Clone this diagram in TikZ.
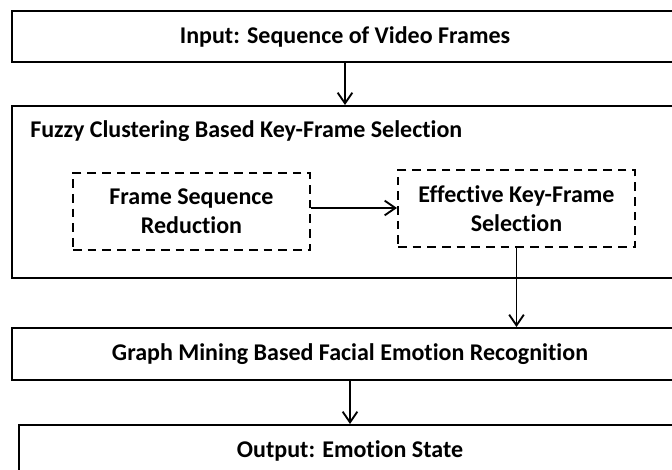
\documentclass[tikz,border=0pt]{standalone}
\usepackage{fontspec}
\setmainfont[Ligatures={NoCommon}]{Carlito}
\usetikzlibrary{arrows.meta,positioning}

\tikzset{
    stage/.style={draw, line width=1.5pt, rectangle, font=\bfseries, inner sep=0pt},
    substage/.style={draw, dashed, dash pattern=on 6.5pt off 4.5pt, line width=1.5pt, rectangle,
        align=center, font=\bfseries, inner sep=0pt,
        minimum width=177.75pt, minimum height=57.75pt},
    flow/.style={-{Straight Barb[length=8pt,width=11pt]}, line width=1.4pt}
}

\begin{document}
\begin{tikzpicture}[x=0.75pt, y=-0.75pt]
    \fontsize{18}{21.75}\selectfont
    \useasboundingbox (0, 0) rectangle (672, 470);
    \clip (0, 0) rectangle (672, 470);
    \fill[white] (0, 0) rectangle (672, 470);

    % main pipeline
    \node[stage, minimum width=499.5pt, minimum height=38.25pt] (input) at (345, 36.5) {Input: Sequence of Video Frames};
    \node[stage, minimum width=499.5pt, minimum height=129pt] (fuzzy) at (345, 192) {};
    \node[font=\bfseries, anchor=west, inner sep=0pt] (fuzzytitle) at (30, 131) {Fuzzy Clustering Based Key-Frame Selection};
    \node[stage, minimum width=507pt, minimum height=39pt] (graph) at (350, 354) {Graph Mining Based Facial Emotion Recognition};
    \node[stage, minimum width=496.5pt, minimum height=39pt] (output) at (350, 451) {Output: Emotion State};

    % key-frame selection steps
    \node[substage] (reduce) at (191.5, 211.5) {Frame Sequence\\Reduction};
    \node[substage] (keyframe) at (516.5, 209) {Effective Key-Frame\\Selection};
    \coordinate (handover) at (0, 208);

    \draw[flow] (input.south) -- (input.south |- fuzzy.north);
    \draw[flow] (reduce.east |- handover) -- (keyframe.west |- handover);
    \draw[flow] (keyframe.south) -- (keyframe.south |- graph.north);
    \draw[flow] (graph.south) -- (output.north);
\end{tikzpicture}
\end{document}
